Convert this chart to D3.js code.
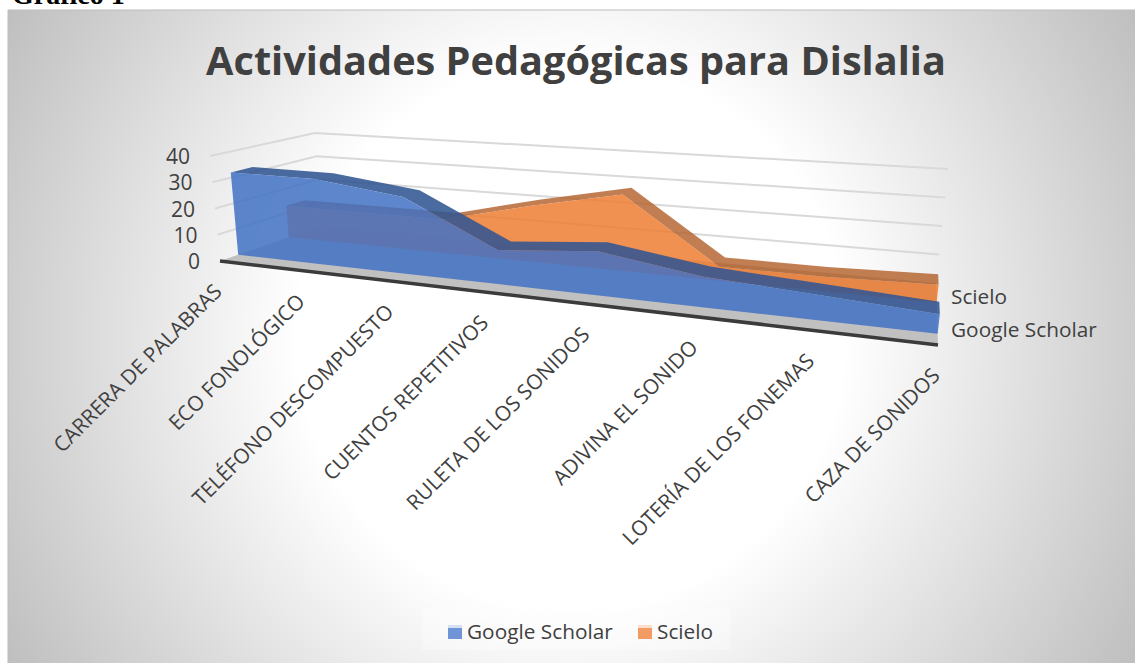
<!DOCTYPE html>
<html><head><meta charset="utf-8">
<script src="https://cdn.jsdelivr.net/npm/d3@7"></script>
<style>html,body{margin:0;padding:0;background:#fff}svg{display:block}text{font-family:"Open Sans",sans-serif}</style>
</head><body><svg id="c" width="1135" height="663"></svg>
<script>
const categories=["CARRERA DE PALABRAS","ECO FONOLÓGICO","TELÉFONO DESCOMPUESTO","CUENTOS REPETITIVOS","RULETA DE LOS SONIDOS","ADIVINA EL SONIDO","LOTERÍA DE LOS FONEMAS","CAZA DE SONIDOS"];
const googleScholar=[32,32,28,12,15,10,8,6];
const scielo=[13,13,13,21,28,5,5,6];
const yTicks=[0,10,20,30,40];

const svg=d3.select("#c");
const defs=svg.append("defs");
const rg=defs.append("radialGradient").attr("id","bg").attr("gradientUnits","userSpaceOnUse")
  .attr("cx",571).attr("cy",336).attr("r",650);
rg.append("stop").attr("offset",0).attr("stop-color","#ffffff");
rg.append("stop").attr("offset",.42).attr("stop-color","#ffffff");
rg.append("stop").attr("offset",1).attr("stop-color","#bfbfbf");
const blur=defs.append("filter").attr("id","soft");
blur.append("feGaussianBlur").attr("stdDeviation",.5);

svg.append("text").text("Gráfico 1").attr("x",12).attr("y",4).attr("font-weight","bold")
  .style("font-family","'Liberation Serif',serif").style("font-size","28px").attr("fill","#000");
svg.append("rect").attr("x",8).attr("y",10).attr("width",1127).attr("height",653).attr("fill","url(#bg)");
svg.append("path").attr("d",d3.line()([[8,663],[8,10],[1135,10]])).attr("fill","none").attr("stroke","#bdbdbd").attr("stroke-width",1);

// Perspective frame: floor and top-of-axis corners (front-left, front-right, back-left, back-right)
const floorQ={a:[220,261],b:[938,345],c:[321,226],d:[936,283]};
const topQ={a:[210,156],b:[953,210],c:[315,133],d:[948,169]};
const k=1.27;
const sx=d3.scaleLinear().domain([0,categories.length-1]).range([0,1]);
const warp=u=>u/(u+k*(1-u));
const yS=d3.scaleLinear().domain([0,40]).range([0,1]);
const mix=(p,q,t)=>[p[0]+(q[0]-p[0])*t,p[1]+(q[1]-p[1])*t];
function onQuad(Q,s,v){return mix(mix(Q.a,Q.b,s),mix(Q.c,Q.d,s),v);}
function pt(i,v,val){const s=warp(sx(i));return mix(onQuad(floorQ,s,v),onQuad(topQ,s,v),yS(val));}
const line=d3.line();
const last=categories.length-1;

// wall gridlines
const grid=svg.append("g").attr("filter","url(#soft)");
grid.selectAll("path").data(yTicks.filter(d=>d>0)).join("path")
  .attr("d",d=>line([pt(0,0,d),pt(0,1,d),pt(last,1,d)]))
  .attr("fill","none").attr("stroke","#d9d9d9").attr("stroke-width",2);

const plot=svg.append("g").attr("filter","url(#soft)");
// floor
plot.append("path").attr("d",line([pt(0,0,0),pt(last,0,0),pt(last,1,0),pt(0,1,0)])+"Z").attr("fill","#c0c0c0");
plot.append("path").attr("d",line([pt(0,0,0),pt(last,0,0)])).attr("fill","none").attr("stroke","#3a3a3a").attr("stroke-width",3.5);

const series=[
 {name:"Scielo",values:scielo,v0:.68,v1:.86,fill:"#ED7D31",ridge:"#B25E25",fo:.85,ro:.8},
 {name:"Google Scholar",values:googleScholar,v0:.18,v1:.39,fill:"#4472C4",ridge:"#335693",fo:.86,ro:.88}
];
series.forEach(S=>{
  const idx=d3.range(categories.length);
  const g=plot.append("g");
  const front=idx.map(i=>pt(i,S.v0,S.values[i]));
  const back=idx.map(i=>pt(i,S.v1,S.values[i])).reverse();
  g.append("path").attr("d",line(front.concat(back))+"Z").attr("fill",S.ridge).attr("fill-opacity",S.ro);
  const base=idx.map(i=>pt(i,S.v0,0)).reverse();
  g.append("path").attr("d",line(front.concat(base))+"Z").attr("fill",S.fill).attr("fill-opacity",S.fo);
});

// title
svg.append("text").text("Actividades Pedagógicas para Dislalia").attr("x",576).attr("y",75)
  .attr("text-anchor","middle").attr("font-weight","bold").style("font-size","39.7px").attr("fill","#404040");

// y tick labels
svg.append("g").selectAll("text").data(yTicks).join("text").text(d=>d)
  .attr("x",d=>pt(0,0,d)[0]-20).attr("y",d=>pt(0,0,d)[1]+8)
  .attr("text-anchor","end").style("font-size","21px").attr("fill","#404040");

// category labels
svg.append("g").selectAll("text").data(categories).join("text").text(d=>d)
  .attr("transform",(d,i)=>{const p=pt(i,0,0);return `translate(${p[0]+3},${p[1]+32}) rotate(-45)`;})
  .attr("text-anchor","end").style("font-size","20.8px").attr("fill","#404040");

// depth axis labels
svg.append("g").selectAll("text").data(series).join("text").text(d=>d.name)
  .attr("x",951).attr("y",(d,i)=>[304,337][i]).style("font-size","20.8px").attr("fill","#404040");

// legend
svg.append("rect").attr("x",422).attr("y",608).attr("width",308).attr("height",42).attr("fill","#fff").attr("fill-opacity",.3);
const leg=[{name:"Google Scholar",c:"#7095D6",t:"#D5E0F3",sx:448,tx:467},{name:"Scielo",c:"#F29C63",t:"#FBDFCB",sx:638,tx:657}];
const lg=svg.append("g").selectAll("g").data(leg).join("g");
lg.append("rect").attr("x",d=>d.sx).attr("y",625).attr("width",14).attr("height",14).attr("fill",d=>d.c);
lg.append("rect").attr("x",d=>d.sx).attr("y",625).attr("width",14).attr("height",3).attr("fill",d=>d.t);
lg.append("text").text(d=>d.name).attr("x",d=>d.tx).attr("y",639).style("font-size","20.8px").attr("fill","#404040");
</script></body></html>
